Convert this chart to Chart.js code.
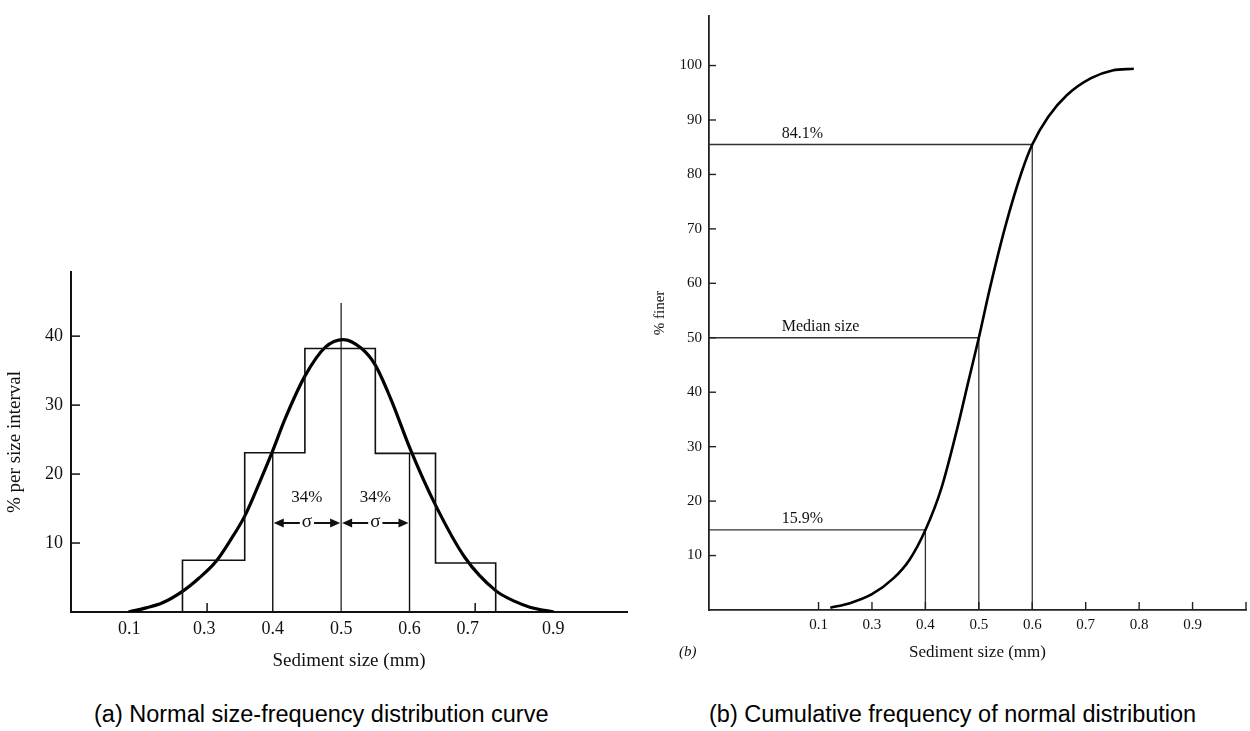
<!DOCTYPE html>
<html><head><meta charset="utf-8">
<script src="https://cdn.jsdelivr.net/npm/chart.js@4.4.1/dist/chart.umd.min.js"></script>
<style>
html,body{margin:0;padding:0;background:#fff;width:1250px;height:731px;overflow:hidden;position:relative}
canvas{position:absolute;top:0}
#c1{left:0}
#c2{left:640px}
.cap{position:absolute;font-family:"Liberation Sans",Arial,sans-serif;font-size:23.5px;color:#000;white-space:nowrap;top:701px;line-height:1.15}
#capA{left:94px}
#capB{left:709px}
#blabel{position:absolute;left:679px;top:643px;font:italic 15px "Liberation Serif",serif;color:#111}
</style></head><body>
<canvas id="c1" width="640" height="690"></canvas>
<canvas id="c2" width="610" height="690"></canvas>
<div class="cap" id="capA">(a) Normal size-frequency distribution curve</div>
<div class="cap" id="capB">(b) Cumulative frequency of normal distribution</div>
<div id="blabel">(b)</div>
<script>
// ---------- Data: (a) size-frequency ----------
const leftTickValues = [0.19, 0.30, 0.40, 0.50, 0.60, 0.685, 0.81];
const leftTickLabels = ['0.1', '0.3', '0.4', '0.5', '0.6', '0.7', '0.9'];
const leftTickMarks = [0.304, 0.696];
const leftYTicks = [10, 20, 30, 40];
const binEdges = [0.268, 0.359, 0.447, 0.550, 0.638, 0.726];
const binHeights = [7.5, 23.1, 38.2, 23.0, 7.1];
const curveX = [0.189, 0.215, 0.238, 0.268, 0.292, 0.316, 0.338, 0.359, 0.382, 0.400, 0.418, 0.447, 0.477, 0.503, 0.530, 0.550, 0.573, 0.602, 0.638, 0.681, 0.726, 0.755, 0.776, 0.811];
const curveY = [0.0, 0.6, 1.3, 3.0, 4.9, 7.2, 10.4, 13.9, 19.1, 23.4, 28.0, 34.2, 38.4, 39.5, 38.2, 35.8, 30.8, 23.4, 15.5, 7.9, 3.1, 1.5, 0.7, 0.0];
const sigmaLineX = [0.4, 0.5, 0.6];
const sigmaLineTop = [23.1, 44.8, 23.0];
const sigmaSpans = [[0.4, 0.5], [0.5, 0.6]];
const sigmaTexts = ['34%', '34%'];

// ---------- Data: (b) cumulative ----------
const rightTickValues = [0.2, 0.3, 0.4, 0.5, 0.6, 0.7, 0.8, 0.9];
const rightTickLabels = ['0.1', '0.3', '0.4', '0.5', '0.6', '0.7', '0.8', '0.9'];
const rightTickMarks = [0.2, 0.3, 0.4, 0.5, 0.6, 0.7, 0.8, 0.9, 1.0];
const rightYTicks = [10, 20, 30, 40, 50, 60, 70, 80, 90, 100];
const cumX = [0.222, 0.26, 0.30, 0.34, 0.37, 0.40, 0.43, 0.46, 0.48, 0.50, 0.52, 0.55, 0.58, 0.60, 0.63, 0.665, 0.71, 0.75, 0.79];
const cumY = [0.4, 1.3, 2.9, 5.8, 9.2, 14.7, 22.4, 33.5, 41.8, 50.0, 58.8, 70.6, 80.4, 85.5, 90.6, 94.6, 97.7, 99.1, 99.4];
const markSize = [0.4, 0.5, 0.6];
const markPercent = [14.7, 50.0, 85.5];
const markText = ['15.9%', 'Median size', '84.1%'];
const markLabelX = 0.131;

const SERIF = '"Liberation Serif", "Times New Roman", serif';
const INK = '#111';

const inwardTicks = {
  id: 'inwardTicks',
  afterDraw(chart, args, o) {
    const ctx = chart.ctx, a = chart.chartArea;
    ctx.save();
    ctx.strokeStyle = o.color; ctx.lineWidth = o.width;
    (o.x || []).forEach(v => {
      const px = chart.scales.x.getPixelForValue(v);
      ctx.beginPath(); ctx.moveTo(px, a.bottom); ctx.lineTo(px, a.bottom - o.xLen); ctx.stroke();
    });
    (o.y || []).forEach(v => {
      const py = chart.scales.y.getPixelForValue(v);
      ctx.beginPath(); ctx.moveTo(a.left, py); ctx.lineTo(a.left + o.yLen, py); ctx.stroke();
    });
    ctx.restore();
  }
};

const sigmaNotes = {
  id: 'sigmaNotes',
  afterDatasetsDraw(chart, args, o) {
    const ctx = chart.ctx, xs = chart.scales.x, ys = chart.scales.y;
    ctx.save();
    ctx.fillStyle = INK; ctx.strokeStyle = INK;
    ctx.textAlign = 'center'; ctx.textBaseline = 'middle';
    o.spans.forEach((sp, i) => {
      const x0 = xs.getPixelForValue(sp[0]), x1 = xs.getPixelForValue(sp[1]);
      const xm = (x0 + x1) / 2;
      ctx.font = '17px ' + SERIF;
      ctx.fillText(o.texts[i], xm, ys.getPixelForValue(o.textY));
      const ay = ys.getPixelForValue(o.arrowY);
      ctx.font = '19px ' + SERIF;
      const w = ctx.measureText('σ').width;
      ctx.fillText('σ', xm, ay - 1);
      ctx.lineWidth = 2;
      ctx.beginPath();
      ctx.moveTo(x0 + 8, ay); ctx.lineTo(xm - w / 2 - 2, ay);
      ctx.moveTo(xm + w / 2 + 2, ay); ctx.lineTo(x1 - 8, ay);
      ctx.stroke();
      ctx.beginPath(); ctx.moveTo(x0 + 1, ay); ctx.lineTo(x0 + 11, ay - 4.5); ctx.lineTo(x0 + 11, ay + 4.5); ctx.closePath(); ctx.fill();
      ctx.beginPath(); ctx.moveTo(x1 - 1, ay); ctx.lineTo(x1 - 11, ay - 4.5); ctx.lineTo(x1 - 11, ay + 4.5); ctx.closePath(); ctx.fill();
    });
    ctx.restore();
  }
};

const markNotes = {
  id: 'markNotes',
  afterDatasetsDraw(chart, args, o) {
    const ctx = chart.ctx, xs = chart.scales.x, ys = chart.scales.y;
    ctx.save();
    ctx.fillStyle = INK; ctx.font = '16px ' + SERIF;
    ctx.textAlign = 'left'; ctx.textBaseline = 'middle';
    o.texts.forEach((t, i) => {
      ctx.fillText(t, xs.getPixelForValue(o.x), ys.getPixelForValue(o.y[i]) - 11);
    });
    ctx.restore();
  }
};

// ---------- Chart (a) ----------
const histPts = [{x: binEdges[0], y: 0}];
binHeights.forEach((h, i) => { histPts.push({x: binEdges[i], y: h}); histPts.push({x: binEdges[i + 1], y: h}); });
histPts.push({x: binEdges[binEdges.length - 1], y: 0});

const leftSets = [
  {data: histPts, borderColor: INK, borderWidth: 1.6, pointRadius: 0, tension: 0, fill: false},
  {data: curveX.map((x, i) => ({x, y: curveY[i]})), borderColor: '#000', borderWidth: 3.2, pointRadius: 0, cubicInterpolationMode: 'monotone', fill: false}
];
sigmaLineX.forEach((x, i) => leftSets.push({data: [{x, y: 0}, {x, y: sigmaLineTop[i]}], borderColor: INK, borderWidth: i === 1 ? 1.2 : 1.4, pointRadius: 0, fill: false}));

const tickFontL = {family: SERIF, size: 18};
new Chart(document.getElementById('c1'), {
  type: 'line',
  data: {datasets: leftSets},
  plugins: [inwardTicks, sigmaNotes],
  options: {
    responsive: false, animation: false, events: [],
    layout: {padding: {left: 0, top: 272, right: 13, bottom: 18}},
    plugins: {
      legend: {display: false}, tooltip: {enabled: false},
      inwardTicks: {x: leftTickMarks, y: leftYTicks, xLen: 9, yLen: 9, color: INK, width: 1.5},
      sigmaNotes: {spans: sigmaSpans, texts: sigmaTexts, textY: 16.6, arrowY: 12.9}
    },
    scales: {
      x: {
        type: 'linear', min: 0.105, max: 0.918,
        afterFit: s => { s.height = 60; },
        afterBuildTicks: s => { s.ticks = leftTickValues.map(v => ({value: v})); },
        grid: {display: false, drawTicks: false},
        border: {display: true, color: INK, width: 2},
        ticks: {autoSkip: false, maxRotation: 0, padding: 6, color: INK, font: tickFontL, callback: (v, i) => leftTickLabels[i]},
        title: {display: true, text: 'Sediment size (mm)', color: INK, font: {family: SERIF, size: 19}, padding: {top: 0, bottom: 0}}
      },
      y: {
        type: 'linear', min: 0, max: 49.3,
        afterFit: s => { s.width = 71; },
        afterBuildTicks: s => { s.ticks = leftYTicks.map(v => ({value: v})); },
        grid: {display: false, drawTicks: false},
        border: {display: true, color: INK, width: 2},
        ticks: {padding: 8, color: INK, font: tickFontL, callback: v => String(v)},
        title: {display: true, text: '% per size interval', color: INK, font: {family: SERIF, size: 19}, padding: {top: 4, bottom: 0}}
      }
    }
  }
});

// ---------- Chart (b) ----------
const rightSets = [
  {data: cumX.map((x, i) => ({x, y: cumY[i]})), borderColor: '#000', borderWidth: 2.6, pointRadius: 0, cubicInterpolationMode: 'monotone', fill: false}
];
markSize.forEach((s, i) => rightSets.push({
  data: [{x: -0.005, y: markPercent[i]}, {x: s, y: markPercent[i]}, {x: s, y: 0}],
  borderColor: '#333', borderWidth: 1.3, pointRadius: 0, tension: 0, fill: false
}));

const tickFontR = {family: SERIF, size: 15};
new Chart(document.getElementById('c2'), {
  type: 'line',
  data: {datasets: rightSets},
  plugins: [inwardTicks, markNotes],
  options: {
    responsive: false, animation: false, events: [],
    layout: {padding: {left: 0, top: 10, right: 4, bottom: 20}},
    plugins: {
      legend: {display: false}, tooltip: {enabled: false},
      inwardTicks: {x: rightTickMarks, y: rightYTicks, xLen: 8, yLen: 7, color: '#222', width: 1.4},
      markNotes: {texts: markText, x: markLabelX, y: markPercent}
    },
    scales: {
      x: {
        type: 'linear', min: -0.005, max: 1.0,
        afterFit: s => { s.height = 60; },
        afterBuildTicks: s => { s.ticks = rightTickValues.map(v => ({value: v})); },
        grid: {display: false, drawTicks: false},
        border: {display: true, color: '#222', width: 1.8},
        ticks: {autoSkip: false, maxRotation: 0, padding: 6, color: INK, font: tickFontR, callback: (v, i) => rightTickLabels[i]},
        title: {display: true, text: 'Sediment size (mm)', color: INK, font: {family: SERIF, size: 17}, padding: {top: 0, bottom: 7}}
      },
      y: {
        type: 'linear', min: 0, max: 109.1,
        afterFit: s => { s.width = 69; },
        afterBuildTicks: s => { s.ticks = rightYTicks.map(v => ({value: v})); },
        grid: {display: false, drawTicks: false},
        border: {display: true, color: '#222', width: 1.8},
        ticks: {padding: 7, color: INK, font: tickFontR, callback: v => String(v)},
        title: {display: true, text: '% finer', color: INK, font: {family: SERIF, size: 15}, padding: {top: 11, bottom: 0}}
      }
    }
  }
});
</script>
</body></html>
